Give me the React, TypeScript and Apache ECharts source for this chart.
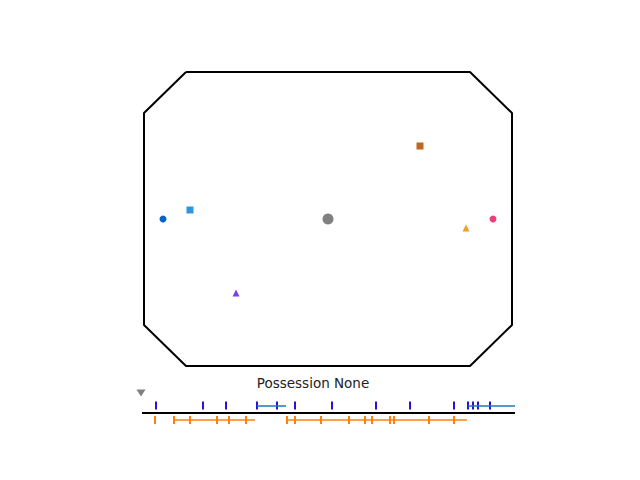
import { useEffect, useRef } from 'react'
import * as echarts from 'echarts'

// pitch outline (page pixels)
const pitchX = [186, 470, 512, 512, 470, 186, 144, 144, 186]
const pitchY = [72, 72, 113, 325, 366, 366, 325, 113, 72]

// players: x, y, symbol, colour, size
const playerX = [163, 190, 328, 420, 466, 493, 236]
const playerY = [219, 210, 219, 146, 228, 219, 293]
const playerSymbol = ['circle', 'rect', 'circle', 'rect', 'triangle', 'circle', 'triangle']
const playerColor = ['#0b63c9', '#2e95e0', '#808080', '#c0661f', '#f0a020', '#e8407a', '#7a3ff0']
const playerSize = [7, 7, 11, 7, 7, 7, 7]

// timeline events
const blueTicks = [156, 203, 226, 257, 277, 295, 332, 376, 410, 454, 468, 473, 478, 490]
const blueSpans = [[257, 286], [468, 515]]
const orangeTicks = [155, 174, 190, 217, 229, 246, 287, 295, 321, 349, 365, 372, 390, 394, 429, 454]
const orangeSpans = [[174, 255], [287, 467]]

export default function App() {
  const ref = useRef<HTMLDivElement>(null)

  useEffect(() => {
    if (!ref.current) return
    const chart = echarts.init(ref.current, null, { renderer: 'svg' })

    const spanSeries = (spans: number[][], y: number, color: string) =>
      spans.map(s => ({
        type: 'line', data: [[s[0], y], [s[1], y]], symbol: 'none',
        lineStyle: { color, width: 1.5 }, silent: true,
      }))

    chart.setOption({
      animation: false,
      backgroundColor: '#ffffff',
      grid: { left: 0, top: 0, width: 640, height: 480 },
      xAxis: { type: 'value', min: 0, max: 640, show: false },
      yAxis: { type: 'value', min: 0, max: 480, inverse: true, show: false },
      title: {
        text: 'Possession None', left: 308, top: 371, textAlign: 'center',
        textStyle: { fontFamily: 'DejaVu Sans', fontSize: 13.5, fontWeight: 'normal', color: '#222' },
      },
      series: [
        {
          type: 'line', data: pitchX.map((x, i) => [x, pitchY[i]]), symbol: 'none',
          lineStyle: { color: '#000', width: 2 },
        },
        {
          type: 'scatter',
          data: playerX.map((x, i) => ({
            value: [x, playerY[i]], symbol: playerSymbol[i], symbolSize: playerSize[i],
            itemStyle: { color: playerColor[i], opacity: 1 },
          })),
        },
        {
          type: 'line', data: [[142, 413], [515, 413]], symbol: 'none',
          lineStyle: { color: '#000', width: 2 },
        },
        ...spanSeries(blueSpans, 406, '#1f77b4'),
        ...spanSeries(orangeSpans, 420, '#ff7f0e'),
        {
          type: 'scatter', symbol: 'rect', symbolSize: [2, 8],
          data: blueTicks.map(x => [x, 405.5]), itemStyle: { color: '#2a10e0', opacity: 1 },
        },
        {
          type: 'scatter', symbol: 'rect', symbolSize: [2, 8],
          data: orangeTicks.map(x => [x, 420]), itemStyle: { color: '#ff7f0e', opacity: 1 },
        },
        {
          type: 'scatter', symbol: 'triangle', symbolSize: [9, 7], symbolRotate: 180,
          data: [[141, 393]], itemStyle: { color: '#808080', opacity: 1 },
        },
      ],
    })

    return () => chart.dispose()
  }, [])

  return <div ref={ref} style={{ width: 640, height: 480, position: 'absolute', left: 0, top: 0 }} />
}
